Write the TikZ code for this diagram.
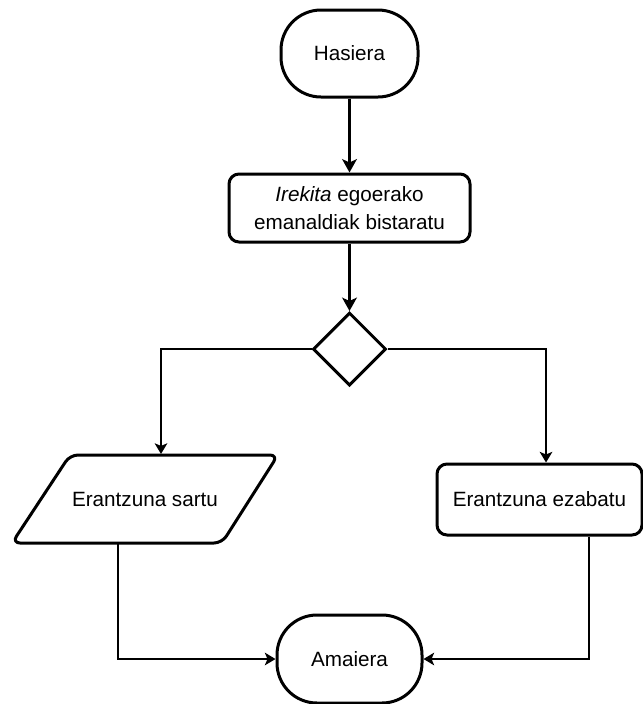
\documentclass[tikz,border=0pt]{standalone}
\usepackage{fontspec}
\setmainfont{Liberation Sans}
\usetikzlibrary{arrows.meta,shapes.geometric}

\begin{document}
\begin{tikzpicture}[x=0.75pt,y=-0.75pt,
  every node/.style={font=\fontsize{15.5}{21}\selectfont, align=center},
  shapebox/.style={draw, line width=2.25pt, fill=white, inner sep=0pt},
  terminal/.style={shapebox, rounded corners=30pt},
  process/.style={shapebox, rounded corners=7.5pt},
  decision/.style={shapebox, diamond, aspect=1, minimum width=54.75pt, minimum height=54.75pt},
  ioframe/.style={draw, line width=2.25pt, fill=white, rounded corners=6pt, line join=round},
  mainflow/.style={line width=2.25pt, -{Stealth[length=10pt,width=11pt,inset=2.5pt]}},
  branch/.style={line width=1.1pt, -{Stealth[length=8pt,width=9.5pt,inset=2pt]}}]
\useasboundingbox (0,0) rectangle (643,704);

% input/output parallelogram outline
\draw[ioframe] (70,455) -- (278,455) -- (222,543) -- (12,543) -- cycle;

% flow nodes
\node[terminal, minimum width=102.75pt, minimum height=65.25pt] (start) at (349.5,53.5) {Hasiera};
\node[process, minimum width=180.75pt, minimum height=51pt] (show) at (349.5,208)
  {\textit{Irekita} egoerako\\emanaldiak bistaratu};
\node[decision] (choice) at (349.5,349) {};
\node[inner sep=0pt, minimum width=150pt, minimum height=66pt, outer sep=0.8pt] (enter) at (145,499) {Erantzuna sartu};
\node[process, minimum width=153.75pt, minimum height=53.25pt] (delete) at (539.5,499.5) {Erantzuna ezabatu};
\node[terminal, minimum width=108.75pt, minimum height=66pt] (end) at (349.5,659) {Amaiera};

% connectors
\draw[mainflow] (start) -- (show);
\draw[mainflow] (show) -- (choice);
\draw[branch] (choice.west) -| ([xshift=12pt]enter.north);
\draw[branch] (choice.east) -| ([xshift=4.9pt]delete.north);
\draw[branch] ([xshift=-20.25pt]enter.south) |- (end.west);
\draw[branch] ([xshift=37.1pt]delete.south) |- (end.east);
\end{tikzpicture}
\end{document}
